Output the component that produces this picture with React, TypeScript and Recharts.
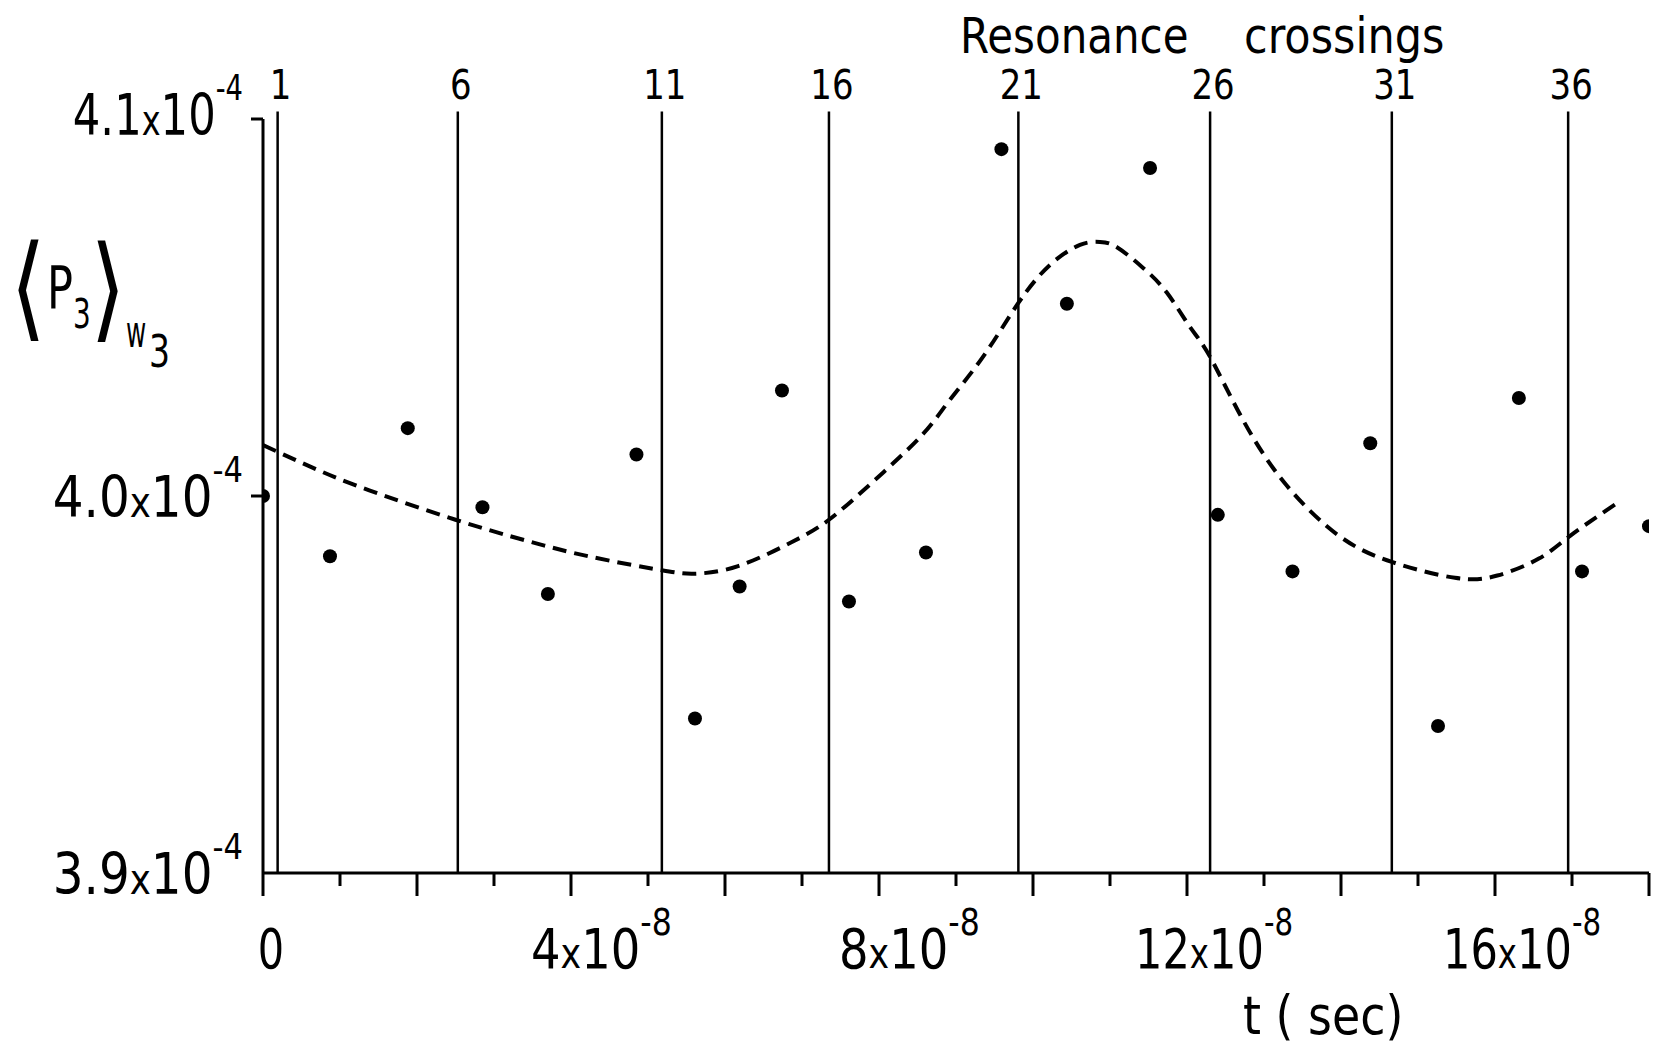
import React from 'react';
import { ComposedChart, Line, Scatter, XAxis, YAxis, ReferenceLine } from 'recharts';

const FONT = '"DejaVu Sans", sans-serif';

// t in units of 1e-8 s, <P3> in units of 1e-4
const pointTimes = [0, 0.87, 1.88, 2.85, 3.7, 4.85, 5.61, 6.19, 6.74, 7.61, 8.61, 9.59, 10.44, 11.52, 12.4, 13.37, 14.38, 15.26, 16.31, 17.13, 18.0];
const pointValues = [4.0, 3.984, 4.018, 3.997, 3.974, 4.011, 3.941, 3.976, 4.028, 3.972, 3.985, 4.092, 4.051, 4.087, 3.995, 3.98, 4.014, 3.939, 4.026, 3.98, 3.992];

// fitted (dashed) curve
const curveTimes = [0, 0.69, 1.38, 2.5, 3.43, 4.25, 5.18, 5.62, 6.17, 6.85, 7.35, 7.95, 8.56, 8.92, 9.35, 9.81, 10.22, 10.61, 10.87, 11.09, 11.43, 11.74, 12.04, 12.3, 12.74, 13.29, 13.97, 14.66, 15.48, 16.03, 16.57, 16.98, 17.57];
const curveValues = [4.0135, 4.0071, 4.0015, 3.9937, 3.9881, 3.9839, 3.9803, 3.9794, 3.9814, 3.9876, 3.9937, 4.0043, 4.0162, 4.0255, 4.0369, 4.0512, 4.0613, 4.0666, 4.0674, 4.066, 4.0605, 4.0539, 4.0448, 4.0369, 4.0197, 4.0029, 3.9895, 3.9825, 3.9783, 3.9789, 3.9834, 3.9895, 3.9979];

// resonance crossings marked across the top
const crossingNumbers = [1, 6, 11, 16, 21, 26, 31, 36];
const crossingTimes = [0.19, 2.53, 5.18, 7.35, 9.81, 12.3, 14.66, 16.95];
const crossingTop = 4.102;

const timeTicks = [0, 1, 2, 3, 4, 5, 6, 7, 8, 9, 10, 11, 12, 13, 14, 15, 16, 17, 18];
const timeLabels = [0, 4, 8, 12, 16];
const valueTicks = [3.9, 4.0, 4.1];

const points = pointTimes.map((t, i) => ({ t, v: pointValues[i] }));
const curve = curveTimes.map((t, i) => ({ t, v: curveValues[i] }));

// the lettering is tall and narrow, so squeeze the text horizontally
const Narrow = ({ x, y, sx, anchor = 'start', size, children }: any) => (
  <g transform={`translate(${x},${y}) scale(${sx},1)`}>
    <text x={0} y={0} textAnchor={anchor} fontSize={size} fontFamily={FONT} fill="#000">
      {children}
    </text>
  </g>
);

// even ticks are long, odd ones short; labels every 4e-8
const TimeTick = (props: any) => {
  const { x, y, payload } = props;
  const v = payload.value;
  const len = v % 2 === 0 ? 23 : 13;
  const base = y + 95;
  let label = null;
  if (v === 0) {
    label = <Narrow x={x + 8} y={base} sx={0.74} anchor="middle" size={56}>0</Narrow>;
  } else if (timeLabels.includes(v)) {
    const wide = v >= 10;
    label = (
      <Narrow x={x - (wide ? 52 : 40)} y={base} sx={wide ? 0.77 : 0.83} size={56}>
        <tspan>{v}</tspan>
        <tspan fontSize={42}>x</tspan>
        <tspan>10</tspan>
        <tspan fontSize={38} dy={-33}>-8</tspan>
      </Narrow>
    );
  }
  return (
    <g>
      <line x1={x} y1={y} x2={x} y2={y + len} stroke="#000" strokeWidth={3} />
      {label}
    </g>
  );
};

const ValueTick = (props: any) => {
  const { x, y, payload } = props;
  const v = payload.value;
  const top = v === 4.1;
  return (
    <g>
      {v !== 3.9 && <line x1={x - 12} y1={y} x2={x} y2={y} stroke="#000" strokeWidth={3} />}
      <Narrow x={x - 20} y={y + (top ? 16 : 21)} sx={top ? 0.76 : 0.85} anchor="end" size={57}>
        <tspan>{v.toFixed(1)}</tspan>
        <tspan fontSize={42}>x</tspan>
        <tspan>10</tspan>
        <tspan fontSize={36} dy={-35}>-4</tspan>
      </Narrow>
    </g>
  );
};

const CrossingLabel = (props: any) => {
  const { viewBox, text } = props;
  if (!viewBox) return null;
  const cx = viewBox.x + (viewBox.width || 0) / 2;
  const top = Math.min(viewBox.y, viewBox.y + (viewBox.height || 0));
  return (
    <Narrow x={cx + 3} y={top - 12} sx={0.85} anchor="middle" size={40}>
      {text}
    </Narrow>
  );
};

export default function App() {
  return (
    <div style={{ position: 'relative', width: 1653, height: 1047, background: '#fff' }}>
      <style>{'body{margin:0;background:#fff}'}</style>
      <ComposedChart
        width={1653}
        height={1047}
        margin={{ top: 119, right: 4, bottom: 0, left: 0 }}
      >
        <XAxis
          type="number"
          dataKey="t"
          domain={[0, 18]}
          ticks={timeTicks}
          interval={0}
          height={174}
          tickSize={0}
          tickMargin={0}
          tickLine={false}
          allowDataOverflow
          axisLine={{ stroke: '#000', strokeWidth: 3 }}
          tick={<TimeTick />}
        />
        <YAxis
          type="number"
          dataKey="v"
          domain={[3.9, 4.1]}
          ticks={valueTicks}
          width={263}
          tickSize={0}
          tickMargin={0}
          tickLine={false}
          allowDataOverflow
          axisLine={{ stroke: '#000', strokeWidth: 3 }}
          tick={<ValueTick />}
        />
        {crossingTimes.map((t, i) => (
          <ReferenceLine
            key={`cross-${i}`}
            segment={[{ x: t, y: crossingTop }, { x: t, y: 3.9 }]}
            ifOverflow="visible"
            stroke="#000"
            strokeWidth={2.5}
            label={<CrossingLabel text={String(crossingNumbers[i])} />}
          />
        ))}
        <Line
          data={curve}
          dataKey="v"
          type="natural"
          stroke="#000"
          strokeWidth={4}
          strokeDasharray="14 8"
          dot={false}
          activeDot={false}
          isAnimationActive={false}
        />
        <Scatter
          data={points}
          dataKey="v"
          fill="#000"
          isAnimationActive={false}
          shape={(p: any) => <circle cx={p.cx} cy={p.cy} r={7} fill="#000" />}
        />
      </ComposedChart>

      {/* titles */}
      <svg
        width={1653}
        height={1047}
        style={{ position: 'absolute', left: 0, top: 0, pointerEvents: 'none' }}
      >
        <Narrow x={960} y={53} sx={0.84} size={50}>Resonance</Narrow>
        <Narrow x={1244} y={53} sx={0.86} size={50}>crossings</Narrow>
        <Narrow x={1243} y={1034} sx={0.85} size={54}>t ( sec)</Narrow>

        <Narrow x={28} y={326} sx={0.8} anchor="middle" size={114}>⟨</Narrow>
        <Narrow x={47} y={308} sx={0.73} size={59}>P</Narrow>
        <Narrow x={73} y={328} sx={0.68} size={41}>3</Narrow>
        <Narrow x={108} y={327} sx={0.8} anchor="middle" size={114}>⟩</Narrow>
        <Narrow x={126} y={347} sx={0.55} size={45}>w</Narrow>
        <Narrow x={149} y={367} sx={0.75} size={44}>3</Narrow>
      </svg>
    </div>
  );
}
